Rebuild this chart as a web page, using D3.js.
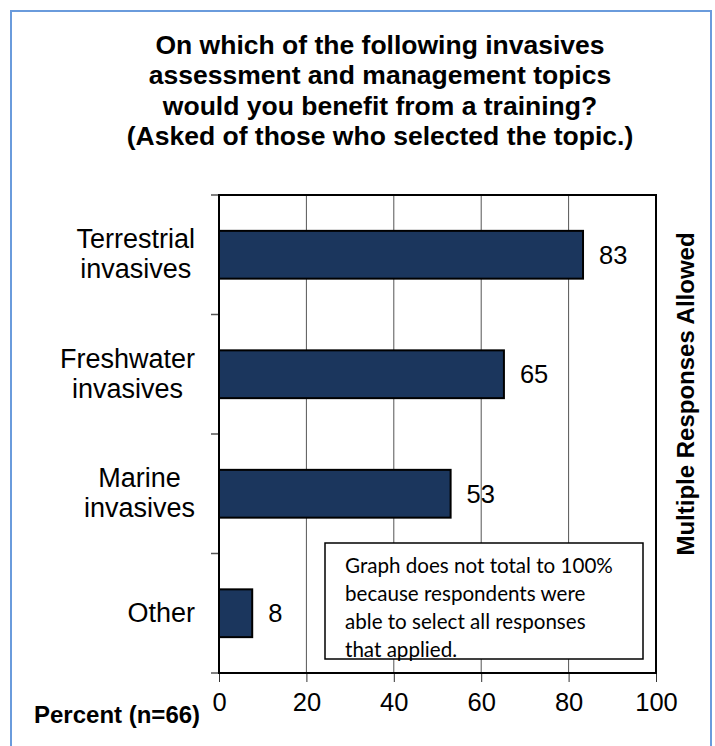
<!DOCTYPE html>
<html><head><meta charset="utf-8">
<script src="https://cdn.jsdelivr.net/npm/d3@7"></script>
<style>
html,body{margin:0;padding:0;background:#fff;}
svg{display:block;}
</style></head>
<body>
<svg id="c" width="715" height="746"></svg>
<script>
const titleLines = ["On which of the following invasives","assessment and management topics","would you benefit from a training?","(Asked of those who selected the topic.)"];
const categories = [["Terrestrial","invasives"],["Freshwater","invasives"],["Marine","invasives"],["Other"]];
const values = [83.3, 65.2, 53.0, 7.6];
const xTicks = [0,20,40,60,80,100];
const xTitle = "Percent (n=66)";
const sideLabel = "Multiple Responses Allowed";
const noteLines = ["Graph does not total to 100%","because respondents were","able to select all responses","that applied."];

const SANS = "'Liberation Sans', Arial, sans-serif";
const svg = d3.select("#c").style("font-family", SANS);
const M = {left:219, right:656, top:195, bottom:673};

// outer border
svg.append("rect").attr("x",11).attr("y",11).attr("width",700).attr("height",760)
  .attr("fill","#fff").attr("stroke","#6a9bdc").attr("stroke-width",2);

// title
svg.append("g").selectAll("text").data(titleLines).join("text")
  .attr("x",380).attr("y",(d,i)=>54+i*30.4).attr("text-anchor","middle")
  .attr("font-size",26.5).attr("font-weight","bold").text(d=>d);

const x = d3.scaleLinear().domain([0,100]).range([M.left,M.right]);
const y = d3.scaleBand().domain(categories.map(d=>d.join(" "))).range([M.top,M.bottom])
  .paddingInner(0.6).paddingOuter(0.3);

// gridlines
svg.append("g").selectAll("line").data(xTicks.filter(t=>t>0&&t<100)).join("line")
  .attr("x1",d=>x(d)).attr("x2",d=>x(d)).attr("y1",M.top).attr("y2",M.bottom)
  .attr("stroke","#555").attr("stroke-width",1);

// x axis
const xa = svg.append("g").attr("transform",`translate(0,${M.bottom})`)
  .call(d3.axisBottom(x).tickValues(xTicks).tickSize(9).tickPadding(10).tickFormat(d3.format("d")));
xa.attr("font-family",null).attr("font-size",null);
xa.select(".domain").remove();
xa.selectAll(".tick line").attr("stroke","#333").attr("stroke-width",1);
xa.selectAll(".tick text").attr("font-size",25.5).attr("dy","0.75em").attr("y",19);

// y ticks at band boundaries
const bounds = d3.range(categories.length+1).map(i=>M.top + i*y.step());
svg.append("g").selectAll("line").data(bounds).join("line")
  .attr("x1",M.left-8).attr("x2",M.left).attr("y1",d=>d).attr("y2",d=>d)
  .attr("stroke","#555").attr("stroke-width",1.5);

// bars
svg.append("g").selectAll("rect").data(values).join("rect")
  .attr("x",x(0)).attr("y",(d,i)=>y(categories[i].join(" ")))
  .attr("width",d=>x(d)-x(0)).attr("height",y.bandwidth())
  .attr("fill","#1b365d").attr("stroke","#000").attr("stroke-width",2);

// value labels
svg.append("g").selectAll("text").data(values).join("text")
  .attr("x",d=>x(d)+16).attr("y",(d,i)=>y(categories[i].join(" "))+y.bandwidth()/2+9)
  .attr("font-size",25.5).text(d=>d3.format(".0f")(d));

// plot frame
svg.append("rect").attr("x",M.left).attr("y",M.top).attr("width",M.right-M.left).attr("height",M.bottom-M.top)
  .attr("fill","none").attr("stroke","#000").attr("stroke-width",2);

// category labels
categories.forEach((lines,i)=>{
  const cy = y(lines.join(" "))+y.bandwidth()/2;
  const g = svg.append("g");
  const ts = g.selectAll("text").data(lines).join("text")
    .attr("y",(d,j)=>cy+8.5+(j-(lines.length-1)/2)*30)
    .attr("font-size",27).attr("text-anchor","middle").text(d=>d);
  let maxW = 0; ts.each(function(){maxW=Math.max(maxW,this.getComputedTextLength());});
  ts.attr("x",195-maxW/2);
});

// x title
svg.append("text").attr("x",34).attr("y",723).attr("font-size",24).attr("font-weight","bold").text(xTitle);

// side label
svg.append("text").attr("transform","translate(694,394) rotate(-90)").attr("text-anchor","middle")
  .attr("font-size",24).attr("font-weight","bold").text(sideLabel);

// note box
svg.append("rect").attr("x",325).attr("y",543).attr("width",318).attr("height",116)
  .attr("fill","#fff").attr("stroke","#000").attr("stroke-width",1.5);
svg.append("g").style("font-family","Lato, 'Open Sans', sans-serif")
  .selectAll("text").data(noteLines).join("text")
  .attr("x",345).attr("y",(d,i)=>573.3+i*27.8)
  .attr("font-size",20.6).text(d=>d);
</script>
</body></html>
